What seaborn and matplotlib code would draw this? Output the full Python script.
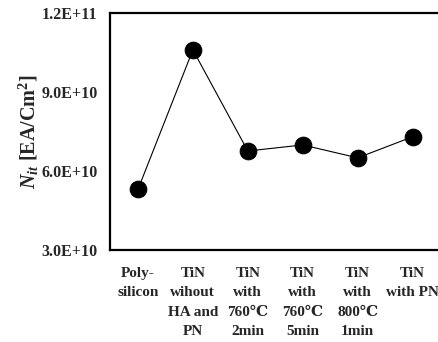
import matplotlib
matplotlib.use("Agg")
import matplotlib.pyplot as plt
import seaborn as sns
import pandas as pd

categories = ["Poly-\nsilicon", "TiN\nwihout\nHA and\nPN", "TiN\nwith\n760℃\n2min",
              "TiN\nwith\n760℃\n5min", "TiN\nwith\n800℃\n1min", "TiN\nwith PN"]
nit_values = [5.3e10, 1.06e11, 6.76e10, 6.99e10, 6.5e10, 7.3e10]
y_ticks = [3.0e10, 6.0e10, 9.0e10, 1.2e11]
y_tick_labels = ["3.0E+10", "6.0E+10", "9.0E+10", "1.2E+11"]

sns.set_style("white")
plt.rcParams['font.family'] = ['Liberation Serif', 'DejaVu Serif']
plt.rcParams['mathtext.fontset'] = 'custom'
plt.rcParams['mathtext.rm'] = 'Liberation Serif:bold'
plt.rcParams['mathtext.bf'] = 'Liberation Serif:bold'
plt.rcParams['mathtext.it'] = 'Liberation Serif:italic:bold'

df = pd.DataFrame({"pos": list(range(len(categories))), "nit": nit_values})

fig = plt.figure(figsize=(4.38, 3.42), dpi=100)
ax = fig.add_axes([0.251, 0.269, 0.76, 0.693])

sns.lineplot(data=df, x="pos", y="nit", ax=ax, color="black", linewidth=0.8,
             marker="o", markersize=12, markeredgecolor="black", markerfacecolor="black")

ax.set_xlim(-0.51, 5.55)
ax.set_ylim(3.0e10, 1.2e11)
ax.set_yticks(y_ticks)
ax.set_yticklabels(y_tick_labels, fontsize=11.5, fontweight="bold")
ax.set_xticks(df["pos"])
ax.set_xticklabels(categories, fontsize=11, fontweight="bold", linespacing=1.65, va="top")
ax.tick_params(axis="both", length=0)
ax.tick_params(axis="y", pad=9)
ax.tick_params(axis="x", pad=12)
ax.set_xlabel("")
ax.set_ylabel(r"$N_{it}$ [EA/Cm$^{2}$]", fontsize=14.5, fontweight="bold", labelpad=0)

for s in ["left", "top", "bottom"]:
    ax.spines[s].set_color("black")
    ax.spines[s].set_linewidth(1.6)
ax.spines["right"].set_visible(False)

fig.savefig("out.png", dpi=100)
